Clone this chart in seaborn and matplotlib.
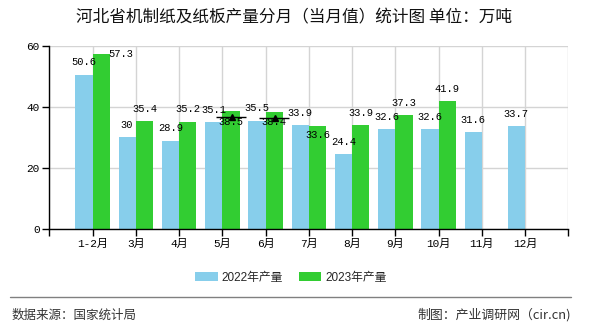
import numpy as np
import pandas as pd
import matplotlib
matplotlib.use("Agg")
import matplotlib.pyplot as plt
import matplotlib.transforms as mtransforms
from matplotlib.patches import Patch
from matplotlib.lines import Line2D
import seaborn as sns

# ---------------- data ----------------
months = ["1-2月", "3月", "4月", "5月", "6月", "7月", "8月", "9月", "10月", "11月", "12月"]
prod_2022 = [50.6, 30, 28.9, 35.1, 35.5, 33.9, 24.4, 32.6, 32.6, 31.6, 33.7]
prod_2023 = [57.3, 35.4, 35.2, 38.5, 38.4, 33.6, 33.9, 37.3, 41.9, np.nan, np.nan]
series_names = ["2022年产量", "2023年产量"]
y_ticks = [0, 20, 40, 60]
title = "河北省机制纸及纸板产量分月（当月值）统计图 单位：万吨"
source_text = "数据来源：国家统计局"
credit_text = "制图：产业调研网（cir.cn)"
star_months = ["5月", "6月"]  # months whose 2023 bar carries a marker

# ---------------- style ----------------
colors = ["#87CEEB", "#32CD32"]
W, H = 590, 330
sns.set_theme(style="white")
plt.rcParams['font.family'] = ['Noto Sans CJK SC', 'DejaVu Sans']
mono = ['Liberation Mono', 'Noto Sans CJK SC']
sans = ['Liberation Sans', 'Noto Sans CJK SC']

rows = []
for i, m in enumerate(months):
    rows.append({"pos": i + 1, "month": m, "series": series_names[0], "value": prod_2022[i]})
    rows.append({"pos": i + 1, "month": m, "series": series_names[1], "value": prod_2023[i]})
df = pd.DataFrame(rows).dropna().reset_index(drop=True)

fig = plt.figure(figsize=(W / 100, H / 100), dpi=100)
fig.patch.set_facecolor("white")
left, right, top, bottom = 49.3, 568.3, 46, 228.7
ax = fig.add_axes([left / W, 1 - bottom / H, (right - left) / W, (bottom - top) / H])

sns.barplot(data=df, x="pos", y="value", hue="series", hue_order=series_names,
            palette=colors, native_scale=True, width=0.8, saturation=1,
            errorbar=None, legend=False, linewidth=0, ax=ax)

ax.set_xlim(0, 12)
ax.set_ylim(0, 60)
ax.set_xticks(range(0, 13))
ax.set_xticklabels([""] + months + [""])
ax.set_yticks(y_ticks)
ax.set_yticklabels([str(t) for t in y_ticks])
ax.set_xlabel("")
ax.set_ylabel("")
ax.set_axisbelow(True)
ax.grid(True, color="#d4d4d4", lw=1)
for s in ["top", "right"]:
    ax.spines[s].set_visible(False)
for s in ["left", "bottom"]:
    ax.spines[s].set_color("black")
    ax.spines[s].set_linewidth(1)
ax.tick_params(axis="both", direction="out", length=5, width=1, color="black",
               labelsize=8, pad=2, left=True, bottom=True)
for lab in ax.get_xticklabels() + ax.get_yticklabels():
    lab.set_family(mono)
    lab.set_color("black")

# value labels
label_offsets = {(1, 0): (14.4, 0), (1, 3): (0, -7.3), (1, 4): (0, -7.3), (1, 5): (0, -6.5)}
default_offset = (0, 8.8)
for s_idx, vals in enumerate([prod_2022, prod_2023]):
    sign = -1 if s_idx == 0 else 1
    for i, v in enumerate(vals):
        if np.isnan(v):
            continue
        x = (i + 1) + sign * 0.2
        off = label_offsets.get((s_idx, i), default_offset)
        ax.annotate(f"{v:g}", (x, v), xytext=off, textcoords="offset points",
                    ha="center", va="center", fontsize=7.5, family=mono, color="black")

# markers on highlighted bars
mk_trans = mtransforms.offset_copy(ax.transData, fig=fig, x=0, y=-6, units="dots")
for m in star_months:
    i = months.index(m)
    x = (i + 1) + 0.2
    v = prod_2023[i]
    ax.plot([x], [v], marker="_", markersize=22, mew=1, color="black", transform=mk_trans, zorder=5)
    ax.plot([x + 0.03], [v], marker="^", markersize=4, color="black", transform=mk_trans, zorder=5)

# title
fig.text(294 / W, 1 - 18.3 / H, title, ha="center", va="center", fontsize=12, color="#111111")

# legend
handles = [Patch(facecolor=c, edgecolor="none", label=n) for c, n in zip(colors, series_names)]
fig.legend(handles=handles, loc="center", bbox_to_anchor=(291 / W, 1 - 277.5 / H), ncol=2,
           frameon=False, handlelength=1.9, handleheight=0.76,
           handletextpad=0.34, columnspacing=1.35, prop={"family": sans, "size": 8.5})

# footer
fig.add_artist(Line2D([10 / W, 571 / W], [1 - 297.3 / H] * 2, color="#808080", lw=1))
fig.text(11.7 / W, 1 - 315 / H, source_text, ha="left", va="center", fontsize=9, color="#333333")
fig.text(571 / W, 1 - 315 / H, credit_text, ha="right", va="center", fontsize=9.3, color="#333333")

fig.savefig("out.png", dpi=100, facecolor="white")
